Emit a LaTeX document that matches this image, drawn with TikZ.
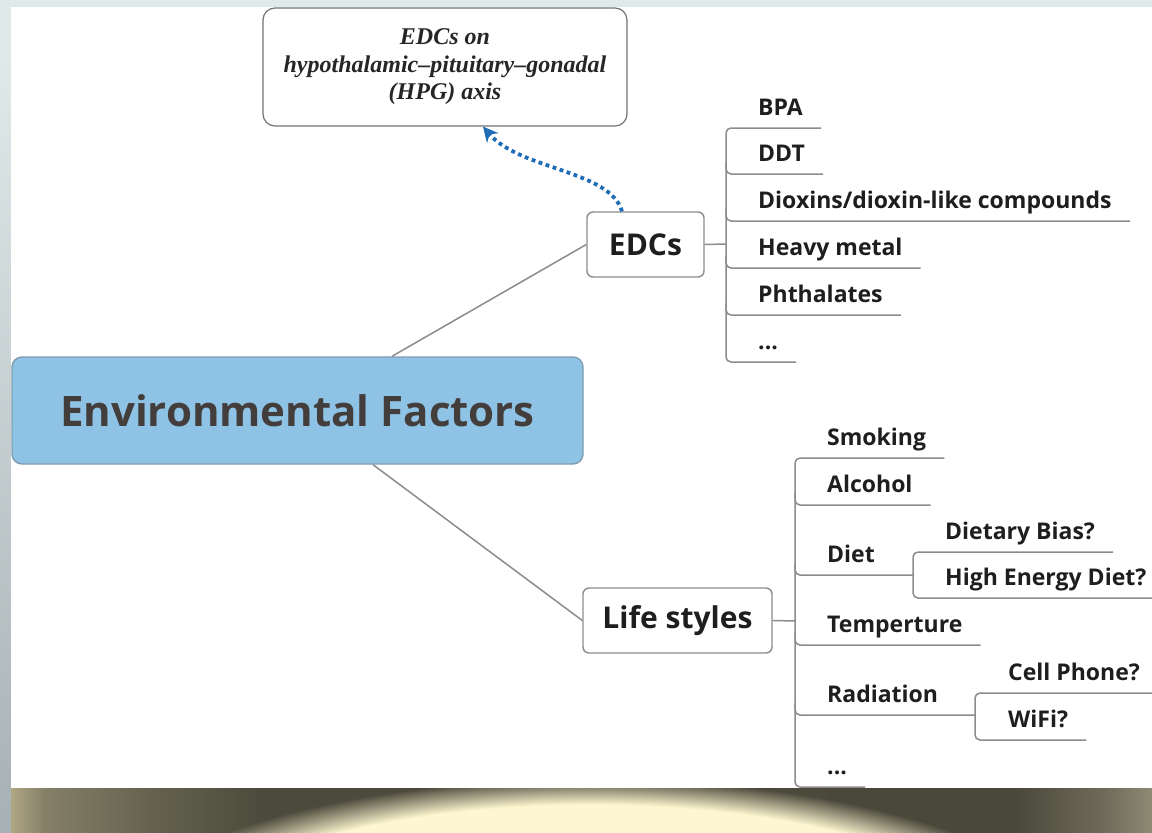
\documentclass[tikz,border=0pt]{standalone}
\usepackage{fontspec}
\setmainfont{Liberation Serif}
\newfontfamily\mapfont{Open Sans}
\usetikzlibrary{arrows.meta,calc,fadings}

\definecolor{framebg}{HTML}{DFE9EA}
\definecolor{frameshade}{HTML}{A7B1B3}
\definecolor{rootfill}{HTML}{8EC3E6}
\definecolor{rootline}{HTML}{7E9DB0}
\definecolor{roottext}{HTML}{433E3C}
\definecolor{branchgray}{HTML}{8C8C8C}
\definecolor{itemtext}{HTML}{1E1E1E}
\definecolor{hpgblue}{HTML}{1E6DB6}
\definecolor{glowyellow}{HTML}{FDF6D0}
\definecolor{bandtan}{HTML}{AFA684}
\definecolor{bandfade}{HTML}{857F68}
\definecolor{bandmid}{HTML}{65634F}
\definecolor{banddark}{HTML}{4C4A3C}
\definecolor{banddeep}{HTML}{4A483B}
\definecolor{bandright}{HTML}{6F6C5B}
\definecolor{bandedge}{HTML}{8E8A74}

% path box covers 25bp..75bp of the shading
\pgfdeclarehorizontalshading{bandshade}{100bp}{color(0bp)=(bandtan); color(25bp)=(bandtan);
  color(26.5bp)=(bandfade); color(31bp)=(bandmid); color(36bp)=(banddark); color(69bp)=(banddeep);
  color(73bp)=(bandright); color(75bp)=(bandedge); color(100bp)=(bandedge)}
\pgfdeclareradialshading{glowmask}{\pgfpointorigin}{color(0bp)=(white); color(21bp)=(white);
  color(25bp)=(black); color(50bp)=(black)}
\pgfdeclarefading{glowfade}{\pgfuseshading{glowmask}}

\begin{document}
\begin{tikzpicture}[x=1pt,y=-1pt,
    rootbox/.style={draw=rootline,line width=1.4pt,fill=rootfill,rounded corners=10pt,
      minimum width=571pt,minimum height=107pt,text=roottext,
      font=\mapfont\bfseries\fontsize{42}{48}\selectfont},
    topicbox/.style={draw=branchgray,line width=1.4pt,fill=white,rounded corners=6pt,
      minimum height=65pt,text=itemtext,font=\mapfont\bfseries\fontsize{30}{36}\selectfont},
    notebox/.style={draw=black!55,line width=1.2pt,fill=white,rounded corners=12pt,
      minimum width=364pt,minimum height=118pt,align=center,text=black!85,
      font=\bfseries\itshape\fontsize{24}{27.5}\selectfont},
    item/.style={anchor=base west,inner sep=0pt,text=itemtext,
      font=\mapfont\bfseries\fontsize{23}{28}\selectfont},
    branch/.style={draw=branchgray,line width=1.5pt,rounded corners=5pt},
    link/.style={draw=branchgray,line width=1.5pt},
    hpgarrow/.style={draw=hpgblue,line width=3.8pt,dash pattern=on 3.8pt off 3.6pt,
      -{Stealth[length=15pt,width=15pt]}}]
    \useasboundingbox (0,0) rectangle (1152,833);

    % slide frame and footer band
    \fill[framebg] (0,0) rectangle (1152,833);
    \shade[top color=framebg,bottom color=frameshade] (0,60) rectangle (11,833);
    \fill[white] (11,7) rectangle (1152,788);
    \shade[shading=bandshade] (11,788) rectangle (1152,833);
    \begin{scope}
      \clip (11,788) rectangle (1152,833);
      \fill[glowyellow,path fading=glowfade] (590,942) ellipse (490 and 163);
    \end{scope}

    % main nodes
    \node[rootbox] (env) at (297.5,410.5) {Environmental Factors};
    \node[topicbox,minimum width=117pt] (edcs) at (645.5,244.5) {EDCs};
    \node[topicbox,minimum width=189pt] (life) at (677.5,620.5) {Life styles};
    \node[notebox] (hpg) at (445,67) {EDCs on\\hypothalamic--pituitary--gonadal\\(HPG) axis};

    \draw[link] ([xshift=94.5pt]env.north) -- (edcs.west);
    \draw[link] ([xshift=75.5pt]env.south) -- (life.west);
    \draw[hpgarrow] ([xshift=-23.5pt]edcs.north) .. controls (610,170) and (520,170) .. ([xshift=38pt]hpg.south);

    % EDCs
    \node[item] (bpa)      at (758,115) {BPA};
    \node[item] (ddt)      at (758,161) {DDT};
    \node[item] (dioxin)   at (758,208) {Dioxins/dioxin-like compounds};
    \node[item] (metal)    at (758,255) {Heavy metal};
    \node[item] (phthal)   at (758,302) {Phthalates};
    \node[item] (edcsmore) at (758,349) {...};

    \coordinate (edcsjoin) at (726,244);
    \draw[link] (edcs.east) -- (edcsjoin);
    \draw[branch] ($(bpa.base east)+(18,13)$) -- (726,128) -- (726,362) -- ($(edcsmore.base east)+(18,13)$);
    \foreach \n in {ddt,dioxin,metal,phthal}
      \draw[branch] ($(\n.base west)+(-32,1)$) |- ($(\n.base east)+(18,13)$);

    % Life styles
    \node[item] (smoking)  at (827,445) {Smoking};
    \node[item] (alcohol)  at (827,492) {Alcohol};
    \node[item] (diet)     at (827,562) {Diet};
    \node[item] (temp)     at (827,632) {Temperture};
    \node[item] (radiate)  at (827,702) {Radiation};
    \node[item] (lifemore) at (827,774) {...};

    \coordinate (lifejoin) at (795,621);
    \draw[link] (life.east) -- (lifejoin);
    \draw[branch] ($(smoking.base east)+(18,13)$) -- (795,458) -- (795,787) -- ($(lifemore.base east)+(18,13)$);
    \foreach \n in {alcohol,temp}
      \draw[branch] ($(\n.base west)+(-32,1)$) |- ($(\n.base east)+(18,13)$);

    % Diet
    \node[item] (dietbias)   at (945,539) {Dietary Bias?};
    \node[item] (highenergy) at (945,585) {High Energy Diet?};
    \coordinate (dietjoin) at (913,575);
    \draw[branch] ($(diet.base west)+(-32,1)$) |- (dietjoin);
    \draw[branch] ($(dietbias.base east)+(18,13)$) -- (913,552) -- (913,598) -- ($(highenergy.base east)+(18,13)$);

    % Radiation
    \node[item] (cellphone) at (1008,680) {Cell Phone?};
    \node[item] (wifi)      at (1008,727) {WiFi?};
    \coordinate (radjoin) at (975,715);
    \draw[branch] ($(radiate.base west)+(-32,1)$) |- (radjoin);
    \draw[branch] ($(cellphone.base east)+(18,13)$) -- (975,693) -- (975,740) -- ($(wifi.base east)+(18,13)$);
\end{tikzpicture}
\end{document}
